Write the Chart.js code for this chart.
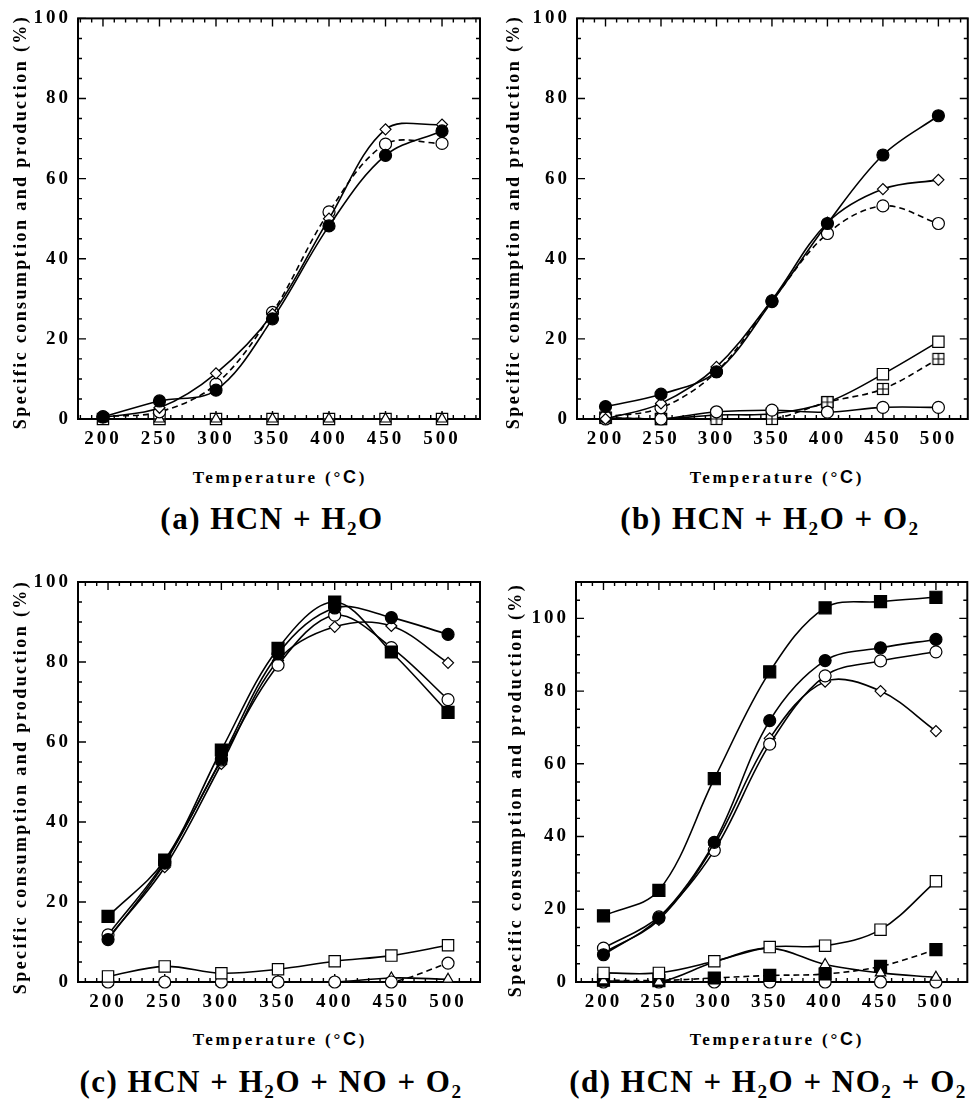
<!DOCTYPE html>
<html>
<head>
<meta charset="utf-8">
<script src="https://cdn.jsdelivr.net/npm/chart.js@4.4.1/dist/chart.umd.min.js"></script>
<style>
body{margin:0;background:#fff;}
#page{position:relative;width:977px;height:1107px;font-family:"Liberation Serif","Times New Roman",serif;font-weight:bold;color:#000;overflow:hidden}
canvas{position:absolute}
.ytitle{position:absolute;white-space:nowrap;font-size:18px;letter-spacing:2.4px;transform:translate(-50%,-50%) rotate(-90deg);}
.xtitle{position:absolute;white-space:nowrap;font-size:17px;letter-spacing:2.8px;transform:translate(-50%,-50%);}
.cap{position:absolute;white-space:nowrap;font-size:31px;letter-spacing:1.5px;transform:translate(-50%,-50%);}
sub{font-size:62%;vertical-align:-0.3em;line-height:0}
.c{font-family:"Liberation Sans",Arial,sans-serif;font-size:18px}
</style>
</head>
<body>
<div id="page">
  <canvas id="ca" width="490" height="460" style="left:0;top:0"></canvas>
  <canvas id="cb" width="487" height="460" style="left:490px;top:0"></canvas>
  <canvas id="cc" width="490" height="460" style="left:0;top:560px"></canvas>
  <canvas id="cd" width="487" height="460" style="left:490px;top:560px"></canvas>

  <div class="ytitle" style="left:20px;top:222px">Specific consumption and production (%)</div>
  <div class="ytitle" style="left:513px;top:222px">Specific consumption and production (%)</div>
  <div class="ytitle" style="left:20px;top:787px">Specific consumption and production (%)</div>
  <div class="ytitle" style="left:515px;top:790px">Specific consumption and production (%)</div>

  <div class="xtitle" style="left:280px;top:477px">Temperature (°<span class="c">C</span>)</div>
  <div class="xtitle" style="left:777px;top:477px">Temperature (°<span class="c">C</span>)</div>
  <div class="xtitle" style="left:280px;top:1039px">Temperature (°<span class="c">C</span>)</div>
  <div class="xtitle" style="left:777px;top:1039px">Temperature (°<span class="c">C</span>)</div>

  <div class="cap" style="left:272px;top:519px">(a) HCN + H<sub>2</sub>O</div>
  <div class="cap" style="left:770px;top:519px">(b) HCN + H<sub>2</sub>O + O<sub>2</sub></div>
  <div class="cap" style="left:271px;top:1082px">(c) HCN + H<sub>2</sub>O + NO + O<sub>2</sub></div>
  <div class="cap" style="left:768px;top:1082px">(d) HCN + H<sub>2</sub>O + NO<sub>2</sub> + O<sub>2</sub></div>
</div>
<script>
// temperatures (°C)
const temps=[200,250,300,350,400,450,500];
const xTicks=[200,250,300,350,400,450,500];
const yTicks=[0,20,40,60,80,100];

// (a) HCN + H2O
const a_fcircle=[0.5,4.5,7.2,25,48.2,65.8,71.9];
const a_diamond=[0.4,2.8,11.4,26.2,50,72.3,73.5];
const a_circle=[0.6,1.8,8.7,26.6,51.7,68.6,68.8];
const a_square=[0,0,0,0,0,0,0];
const a_triangle=[0,0,0,0,0,0,0];

// (b) HCN + H2O + O2
const b_fcircle=[3.1,6.2,11.8,29.3,48.8,65.9,75.7];
const b_diamond=[0,3.9,13,29.7,49,57.4,59.7];
const b_circle=[0.5,2.8,11.8,29.5,46.3,53.2,48.8];
const b_square=[0.3,0,1,1.3,4.2,11.2,19.3];
const b_sqcross=[0.3,0,0,0,4.2,7.5,15];
const b_circle2=[0,0,1.8,2.2,1.7,2.9,2.9];

// (c) HCN + H2O + NO + O2
const c_fsquare=[16.4,30.5,58,83.4,95,82.5,67.4];
const c_fcircle=[10.6,29.7,55.8,82,93.5,91.1,86.9];
const c_circle=[11.8,30.1,55.5,79.2,91.7,83.6,70.6];
const c_diamond=[11,28.7,54.5,80.4,88.8,89,79.8];
const c_square=[1.4,3.9,2.2,3.2,5.2,6.6,9.2];
const c_circle2=[0,0,0,0,0,0,4.7];
const c_triangle=[0,0,0,0,0,1,0.7];

// (d) HCN + H2O + NO2 + O2
const d_fsquare=[18.2,25.2,55.9,85.3,102.9,104.6,105.8];
const d_fcircle=[7.5,17.6,38.4,71.9,88.4,91.9,94.2];
const d_circle=[9.3,17.9,36.2,65.4,84.2,88.3,90.8];
const d_diamond=[8,17.1,37.7,67,82.6,80,69];
const d_square=[2.5,2.5,5.7,9.6,10,14.4,27.7];
const d_triangle=[0.3,0,5.5,9.3,4.8,2.5,1.3];
const d_fsquare2=[0.5,0.4,1.1,1.8,2.2,4.3,8.9];
const d_circle2=[0,0,0,0,0,0,0];

// square with a cross inside
const sqx=document.createElement("canvas");
sqx.width=14;sqx.height=14;
(function(){
  let g=sqx.getContext("2d");
  g.fillStyle="#fff";g.fillRect(1.5,1.5,11,11);
  g.strokeStyle="#000";g.lineWidth=1.2;
  g.strokeRect(1.5,1.5,11,11);
  g.beginPath();g.moveTo(7,1.5);g.lineTo(7,12.5);g.moveTo(1.5,7);g.lineTo(12.5,7);g.stroke();
})();

const marks={
  fcircle:{pointStyle:"circle",pointRadius:6,pointBackgroundColor:"#000"},
  circle:{pointStyle:"circle",pointRadius:6,pointBackgroundColor:"#fff"},
  diamond:{pointStyle:"rectRot",pointRadius:5.5,pointBackgroundColor:"#fff"},
  square:{pointStyle:"rect",pointRadius:8,pointBackgroundColor:"#fff"},
  fsquare:{pointStyle:"rect",pointRadius:8.5,pointBackgroundColor:"#000"},
  triangle:{pointStyle:"triangle",pointRadius:6,pointBackgroundColor:"#fff"},
  sqcross:{pointStyle:sqx,pointRadius:7,pointBackgroundColor:"#fff"}
};

function ser(vals,mark,dashed){
  return Object.assign({
    data:temps.map((t,i)=>({x:t,y:vals[i]})),
    borderColor:"#000",borderWidth:1.6,
    borderDash:dashed?[6,4]:[],
    pointBorderColor:"#000",pointBorderWidth:1.2,
    tension:0.35,showLine:true,clip:false
  },marks[mark]);
}

// frame with inward ticks on all four sides
const framePlugin={
  id:"frame",
  beforeDatasetsDraw(c){
    let ctx=c.ctx,a=c.chartArea,x=c.scales.x,y=c.scales.y;
    ctx.save();
    ctx.strokeStyle="#000";
    ctx.lineWidth=2;
    ctx.strokeRect(a.left,a.top,a.right-a.left,a.bottom-a.top);
    ctx.lineWidth=1.4;
    ctx.beginPath();
    for(let v=Math.ceil(x.min/10)*10;v<=x.max;v+=10){
      let px=x.getPixelForValue(v),len=(v%50===0)?8:4;
      ctx.moveTo(px,a.bottom);ctx.lineTo(px,a.bottom-len);
      ctx.moveTo(px,a.top);ctx.lineTo(px,a.top+len);
    }
    for(let v=0;v<=y.max;v+=5){
      let py=y.getPixelForValue(v),len=(v%20===0)?8:4;
      ctx.moveTo(a.left,py);ctx.lineTo(a.left+len,py);
      ctx.moveTo(a.right,py);ctx.lineTo(a.right-len,py);
    }
    ctx.stroke();
    ctx.restore();
  }
};
const spacingPlugin={
  id:"spacing",
  beforeDraw(c){c.ctx.letterSpacing="3px";},
  afterDraw(c){c.ctx.letterSpacing="0px";}
};

const tickFont={family:"'Liberation Serif','Times New Roman',serif",weight:"bold",size:19};

function makeChart(id,datasets,xmin,xmax,ymax,yw,xh,pad){
  new Chart(document.getElementById(id).getContext("2d"),{
    type:"scatter",
    data:{datasets:datasets},
    options:{
      responsive:false,animation:false,devicePixelRatio:1,
      layout:{padding:pad},
      plugins:{legend:{display:false},tooltip:{enabled:false}},
      scales:{
        x:{type:"linear",min:xmin,max:xmax,
          grid:{display:false,drawTicks:false},border:{display:false},
          afterBuildTicks:s=>{s.ticks=xTicks.map(v=>({value:v}));},
          afterFit:s=>{s.height=xh;},
          ticks:{font:tickFont,color:"#000",padding:9,autoSkip:false,maxRotation:0}},
        y:{type:"linear",min:0,max:ymax,
          grid:{display:false,drawTicks:false},border:{display:false},
          afterBuildTicks:s=>{s.ticks=yTicks.map(v=>({value:v}));},
          afterFit:s=>{s.width=yw;},
          ticks:{font:tickFont,color:"#000",padding:7}}
      }
    },
    plugins:[framePlugin,spacingPlugin]
  });
}

makeChart("ca",[
  ser(a_fcircle,"fcircle"),ser(a_diamond,"diamond"),ser(a_circle,"circle",true),
  ser(a_triangle,"triangle"),ser(a_square,"square")
],177.9,533.6,100,78,41,{left:0,right:10,top:18,bottom:0});

makeChart("cb",[
  ser(b_fcircle,"fcircle"),ser(b_diamond,"diamond"),ser(b_circle,"circle",true),
  ser(b_circle2,"circle"),ser(b_sqcross,"sqcross",true),ser(b_square,"square")
],174.3,526.5,100,87,41,{left:0,right:2,top:18,bottom:0});

makeChart("cc",[
  ser(c_fsquare,"fsquare"),ser(c_fcircle,"fcircle"),ser(c_circle,"circle"),ser(c_diamond,"diamond"),
  ser(c_square,"square"),ser(c_circle2,"circle",true),ser(c_triangle,"triangle")
],173.5,528.2,100,78,38,{left:0,right:10,top:22,bottom:0});

makeChart("cd",[
  ser(d_fsquare,"fsquare"),ser(d_fcircle,"fcircle"),ser(d_circle,"circle"),ser(d_diamond,"diamond"),
  ser(d_square,"square"),ser(d_triangle,"triangle"),ser(d_fsquare2,"fsquare",true),ser(d_circle2,"circle")
],175.2,528.3,110,86,38,{left:0,right:2,top:22,bottom:0});
</script>
</body>
</html>
